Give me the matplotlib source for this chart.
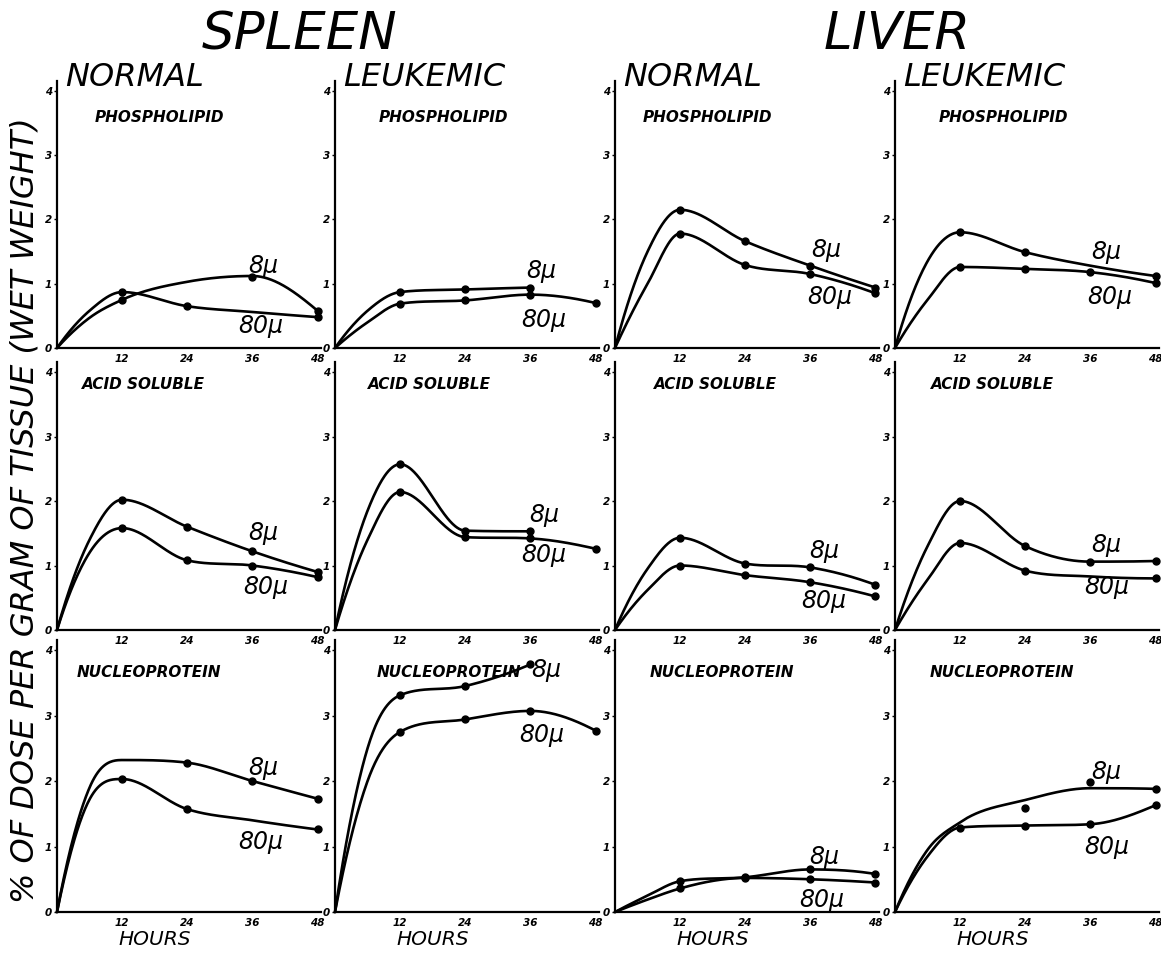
import numpy as np
import matplotlib
matplotlib.use("Agg")
import matplotlib.pyplot as plt

# ---------------- data ----------------
HOURS_CURVE = [0, 6, 12, 24, 36, 48]
HOURS_DOTS = [12, 24, 36, 48]
X_TICKS = [12, 24, 36, 48]
Y_TICKS = [0, 1, 2, 3, 4]

ORGANS = ["SPLEEN", "LIVER"]
STATES = ["NORMAL", "LEUKEMIC"]
FRACTIONS = ["PHOSPHOLIPID", "ACID SOLUBLE", "NUCLEOPROTEIN"]
SERIES = ["8\u03bc", "80\u03bc"]

# spleen normal
sn_phos_8_curve = [0, 0.47, 0.75, 1.03, 1.12, 0.58]
sn_phos_8_dots = [0.75, None, 1.10, 0.58]
sn_phos_80_curve = [0, 0.58, 0.87, 0.65, 0.56, 0.48]
sn_phos_80_dots = [0.87, 0.65, None, 0.48]
sn_acid_8_curve = [0, 1.40, 2.02, 1.60, 1.22, 0.90]
sn_acid_8_dots = [2.02, 1.60, 1.22, 0.90]
sn_acid_80_curve = [0, 1.20, 1.58, 1.08, 1.00, 0.82]
sn_acid_80_dots = [1.58, 1.08, 1.00, 0.82]
sn_nucl_8_curve = [0, 1.90, 2.32, 2.28, 2.00, 1.73]
sn_nucl_8_dots = [None, 2.28, 2.00, 1.73]
sn_nucl_80_curve = [0, 1.72, 2.03, 1.57, 1.40, 1.26]
sn_nucl_80_dots = [2.03, 1.57, None, 1.26]

# spleen leukemic
sl_phos_8_curve = [0, 0.58, 0.87, 0.91, 0.94, None]
sl_phos_8_dots = [0.87, 0.91, 0.94, None]
sl_phos_80_curve = [0, 0.40, 0.69, 0.74, 0.83, 0.70]
sl_phos_80_dots = [0.69, 0.74, 0.83, 0.70]
sl_acid_8_curve = [0, 1.85, 2.57, 1.54, 1.53, None]
sl_acid_8_dots = [2.57, 1.54, 1.53, None]
sl_acid_80_curve = [0, 1.40, 2.14, 1.44, 1.42, 1.26]
sl_acid_80_dots = [2.14, 1.44, 1.42, 1.26]
sl_nucl_8_curve = [0, 2.50, 3.31, 3.45, 3.78, None]
sl_nucl_8_dots = [3.31, 3.45, 3.78, None]
sl_nucl_80_curve = [0, 2.00, 2.75, 2.94, 3.07, 2.77]
sl_nucl_80_dots = [2.75, 2.94, 3.07, 2.77]

# liver normal
ln_phos_8_curve = [0, 1.50, 2.15, 1.66, 1.28, 0.94]
ln_phos_8_dots = [2.15, 1.66, 1.28, 0.94]
ln_phos_80_curve = [0, 1.00, 1.78, 1.29, 1.15, 0.85]
ln_phos_80_dots = [1.78, 1.29, 1.15, 0.85]
ln_acid_8_curve = [0, 0.95, 1.43, 1.03, 0.97, 0.70]
ln_acid_8_dots = [1.43, 1.03, 0.97, 0.70]
ln_acid_80_curve = [0, 0.62, 1.00, 0.85, 0.74, 0.52]
ln_acid_80_dots = [1.00, 0.85, 0.74, 0.52]
ln_nucl_8_curve = [0, 0.25, 0.47, 0.53, 0.65, 0.58]
ln_nucl_8_dots = [0.47, 0.53, 0.65, 0.58]
ln_nucl_80_curve = [0, 0.19, 0.36, 0.52, 0.50, 0.45]
ln_nucl_80_dots = [0.36, 0.52, 0.50, 0.45]

# liver leukemic
ll_phos_8_curve = [0, 1.35, 1.80, 1.49, 1.28, 1.12]
ll_phos_8_dots = [1.80, 1.49, None, 1.12]
ll_phos_80_curve = [0, 0.75, 1.26, 1.23, 1.18, 1.01]
ll_phos_80_dots = [1.26, 1.23, 1.18, 1.01]
ll_acid_8_curve = [0, 1.30, 2.00, 1.30, 1.06, 1.07]
ll_acid_8_dots = [2.00, 1.30, 1.06, 1.07]
ll_acid_80_curve = [0, 0.78, 1.35, 0.92, 0.83, 0.80]
ll_acid_80_dots = [1.35, 0.92, None, 0.80]
ll_nucl_8_curve = [0, 0.95, 1.37, 1.71, 1.89, 1.88]
ll_nucl_8_dots = [None, 1.59, 1.99, 1.88]
ll_nucl_80_curve = [0, 0.85, 1.29, 1.32, 1.34, 1.63]
ll_nucl_80_dots = [1.29, 1.32, 1.34, 1.63]

# panel grid: rows = fractions, cols = (spleen normal, spleen leuk, liver normal, liver leuk)
PANELS = [
    [(sn_phos_8_curve, sn_phos_8_dots, sn_phos_80_curve, sn_phos_80_dots),
     (sl_phos_8_curve, sl_phos_8_dots, sl_phos_80_curve, sl_phos_80_dots),
     (ln_phos_8_curve, ln_phos_8_dots, ln_phos_80_curve, ln_phos_80_dots),
     (ll_phos_8_curve, ll_phos_8_dots, ll_phos_80_curve, ll_phos_80_dots)],
    [(sn_acid_8_curve, sn_acid_8_dots, sn_acid_80_curve, sn_acid_80_dots),
     (sl_acid_8_curve, sl_acid_8_dots, sl_acid_80_curve, sl_acid_80_dots),
     (ln_acid_8_curve, ln_acid_8_dots, ln_acid_80_curve, ln_acid_80_dots),
     (ll_acid_8_curve, ll_acid_8_dots, ll_acid_80_curve, ll_acid_80_dots)],
    [(sn_nucl_8_curve, sn_nucl_8_dots, sn_nucl_80_curve, sn_nucl_80_dots),
     (sl_nucl_8_curve, sl_nucl_8_dots, sl_nucl_80_curve, sl_nucl_80_dots),
     (ln_nucl_8_curve, ln_nucl_8_dots, ln_nucl_80_curve, ln_nucl_80_dots),
     (ll_nucl_8_curve, ll_nucl_8_dots, ll_nucl_80_curve, ll_nucl_80_dots)],
]

# ---------------- layout (positions only) ----------------
LABEL_POS = [  # (8u x,y), (80u x,y) in data coords
    [((38, 1.28), (37.5, 0.34)), ((38, 1.20), (38.5, 0.44)),
     ((39, 1.52), (39.5, 0.80)), ((39, 1.50), (39.5, 0.80))],
    [((38, 1.50), (38.5, 0.66)), ((38.5, 1.78), (38.5, 1.16)),
     ((38.5, 1.22), (38.5, 0.45)), ((39, 1.32), (39, 0.66))],
    [((38, 2.20), (37.5, 1.07)), ((39, 3.70), (38, 2.70)),
     ((38.5, 0.84), (38, 0.18)), ((39, 2.14), (39, 1.00))],
]
TITLE_X = [[18.8, 20, 17, 20], [16, 17.5, 18.5, 18], [17, 21, 19.7, 19.7]]
TITLE_Y = [3.58, 3.80, 3.66]

W, H = 1161, 955
COL_X0 = [57, 335, 615, 895]
ROW_Y0 = [348, 630, 912]
ROW_UNIT = [64.3, 64.5, 65.5]
PX_PER_HOUR = 260.5 / 48
XMAX, YMAX = 48.6, 4.15


def smooth(x, y, xs):
    """Shape-preserving cubic Hermite curve through the read points."""
    x = np.asarray(x, float)
    y = np.asarray(y, float)
    h = np.diff(x)
    d = np.diff(y) / h
    n = len(x)
    m = np.zeros(n)
    for k in range(1, n - 1):
        if d[k - 1] * d[k] <= 0:
            m[k] = 0.0
        else:
            s = (d[k - 1] * h[k] + d[k] * h[k - 1]) / (h[k - 1] + h[k])
            lim = 3 * min(abs(d[k - 1]), abs(d[k]))
            m[k] = np.sign(s) * min(abs(s), lim)

    def end(h0, h1, d0, d1):
        s = ((2 * h0 + h1) * d0 - h0 * d1) / (h0 + h1)
        if np.sign(s) != np.sign(d0):
            s = 0.0
        elif np.sign(d0) != np.sign(d1) and abs(s) > abs(3 * d0):
            s = 3 * d0
        return s

    m[0] = end(h[0], h[1], d[0], d[1])
    m[-1] = end(h[-1], h[-2], d[-1], d[-2])
    out = np.empty_like(xs, dtype=float)
    for i, xv in enumerate(xs):
        k = min(max(np.searchsorted(x, xv) - 1, 0), n - 2)
        t = (xv - x[k]) / h[k]
        h00 = 2 * t**3 - 3 * t**2 + 1
        h10 = t**3 - 2 * t**2 + t
        h01 = -2 * t**3 + 3 * t**2
        h11 = t**3 - t**2
        out[i] = h00 * y[k] + h10 * h[k] * m[k] + h01 * y[k + 1] + h11 * h[k] * m[k + 1]
    return out


fig = plt.figure(figsize=(W / 100, H / 100), dpi=100)
fig.patch.set_facecolor("white")

tick_font = dict(fontsize=7.5, fontweight="bold", fontstyle="italic")

for r in range(3):
    for c in range(4):
        left = COL_X0[c] / W
        width = XMAX * PX_PER_HOUR / W
        bottom = (H - ROW_Y0[r]) / H
        height = YMAX * ROW_UNIT[r] / H
        ax = fig.add_axes([left, bottom, width, height])
        ax.set_xlim(0, XMAX)
        ax.set_ylim(0, YMAX)
        for s in ("top", "right"):
            ax.spines[s].set_visible(False)
        for s in ("left", "bottom"):
            ax.spines[s].set_linewidth(1.6)
        ax.set_xticks(X_TICKS)
        ax.set_xticklabels([str(v) for v in X_TICKS], **tick_font)
        ax.set_yticks(Y_TICKS)
        ax.set_yticklabels([str(v) for v in Y_TICKS], **tick_font)
        ax.tick_params(axis="x", length=0, pad=4)
        ax.tick_params(axis="y", length=2.5, width=1, pad=1)
        ax.patch.set_alpha(0)

        c8, d8, c80, d80 = PANELS[r][c]
        for curve, dots in ((c8, d8), (c80, d80)):
            xs_k = [h for h, v in zip(HOURS_CURVE, curve) if v is not None]
            ys_k = [v for v in curve if v is not None]
            xs = np.linspace(0, xs_k[-1], 300)
            ax.plot(xs, smooth(xs_k, ys_k, xs), color="black", lw=1.9,
                    solid_capstyle="round", clip_on=False)
            dx = [h for h, v in zip(HOURS_DOTS, dots) if v is not None]
            dy = [v for v in dots if v is not None]
            ax.plot(dx, dy, "o", color="black", ms=5, clip_on=False)

        (p8, p80) = LABEL_POS[r][c]
        ax.text(p8[0], p8[1], SERIES[0], fontsize=17, fontstyle="italic",
                ha="center", va="center")
        ax.text(p80[0], p80[1], SERIES[1], fontsize=17, fontstyle="italic",
                ha="center", va="center")
        ax.text(TITLE_X[r][c], TITLE_Y[r], FRACTIONS[r], fontsize=11,
                fontweight="bold", fontstyle="italic", ha="center", va="center")
        if r == 2:
            ax.text(18, -0.42, "HOURS", fontsize=14.5, fontstyle="italic",
                    ha="center", va="center")

# headers
fig.text(300 / W, 1 - 35 / H, ORGANS[0], fontsize=37, fontstyle="italic",
         ha="center", va="center")
fig.text(897 / W, 1 - 35 / H, ORGANS[1], fontsize=37, fontstyle="italic",
         ha="center", va="center")
for c, state in enumerate([STATES[0], STATES[1], STATES[0], STATES[1]]):
    fig.text((COL_X0[c] + 8) / W, 1 - 78 / H, state, fontsize=23,
             fontstyle="italic", ha="left", va="center")

fig.text(25 / W, 1 - 510 / H, "% OF DOSE PER GRAM OF TISSUE (WET WEIGHT)",
         fontsize=23, fontstyle="italic", rotation=90, ha="center", va="center")

fig.savefig("out.png", dpi=100, facecolor="white")
